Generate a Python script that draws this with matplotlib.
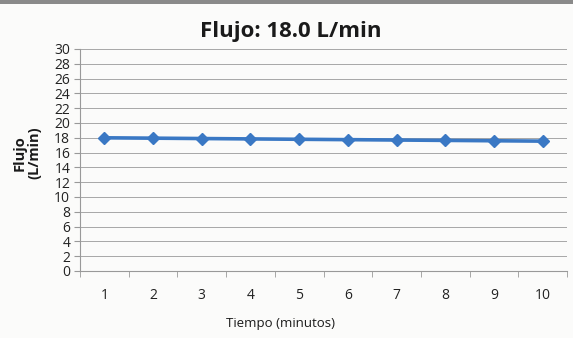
import matplotlib
matplotlib.use("Agg")
import matplotlib.pyplot as plt
from matplotlib.ticker import FixedLocator
from matplotlib.patches import Rectangle

minutes = [1, 2, 3, 4, 5, 6, 7, 8, 9, 10]
flow = [18.0, 17.95, 17.9, 17.85, 17.8, 17.75, 17.7, 17.65, 17.6, 17.55]
yticks = list(range(0, 31, 2))

plt.rcParams['font.family'] = ['Open Sans', 'DejaVu Sans']

bg = '#fbfbfa'
fig = plt.figure(figsize=(5.73, 3.38), dpi=100, facecolor=bg)
fig.patches.append(Rectangle((0, 1-4/338), 1, 4/338, transform=fig.transFigure,
                             facecolor='#8a8a8a', edgecolor='none'))
ax = fig.add_axes([80/573, 1-271/338, 487/573, 222/338])
ax.set_facecolor(bg)

ax.plot(minutes, flow, color='#3a78c4', lw=2.6, marker='D', ms=6,
        markerfacecolor='#3a78c4', markeredgecolor='#3a78c4', zorder=3)

ax.set_xlim(0.5, 10.5)
ax.set_ylim(0, 30)
ax.set_yticks(yticks)
ax.set_xticks(minutes)
ax.xaxis.set_minor_locator(FixedLocator([i + 0.5 for i in range(0, 11)]))
ax.tick_params(axis='x', which='major', length=0, labelsize=10, pad=12, colors='#222222')
ax.tick_params(axis='x', which='minor', length=4, color='#999999')
ax.tick_params(axis='y', length=4, color='#999999', labelsize=10, pad=3,
               labelcolor='#222222')
ax.yaxis.grid(True, color='#9a9a9a', lw=0.6)
ax.set_axisbelow(True)
for s in ['top', 'right']:
    ax.spines[s].set_visible(False)
ax.spines['left'].set_color('#999999')
ax.spines['bottom'].set_color('#999999')

fig.text(291/573, 1-31/338, 'Flujo: 18.0 L/min', ha='center', va='center',
         fontsize=16, fontweight='bold', color='#1a1a1a')
fig.text(27/573, 1-153/338, 'Flujo\n(L/min)', ha='center', va='center',
         rotation=90, fontsize=10.5, fontweight='bold', color='#1a1a1a',
         linespacing=1.0)
fig.text(280/573, 1-323/338, 'Tiempo (minutos)', ha='center', va='center',
         fontsize=9.5, color='#1a1a1a')

fig.savefig('out.png', dpi=100, facecolor=fig.get_facecolor())
